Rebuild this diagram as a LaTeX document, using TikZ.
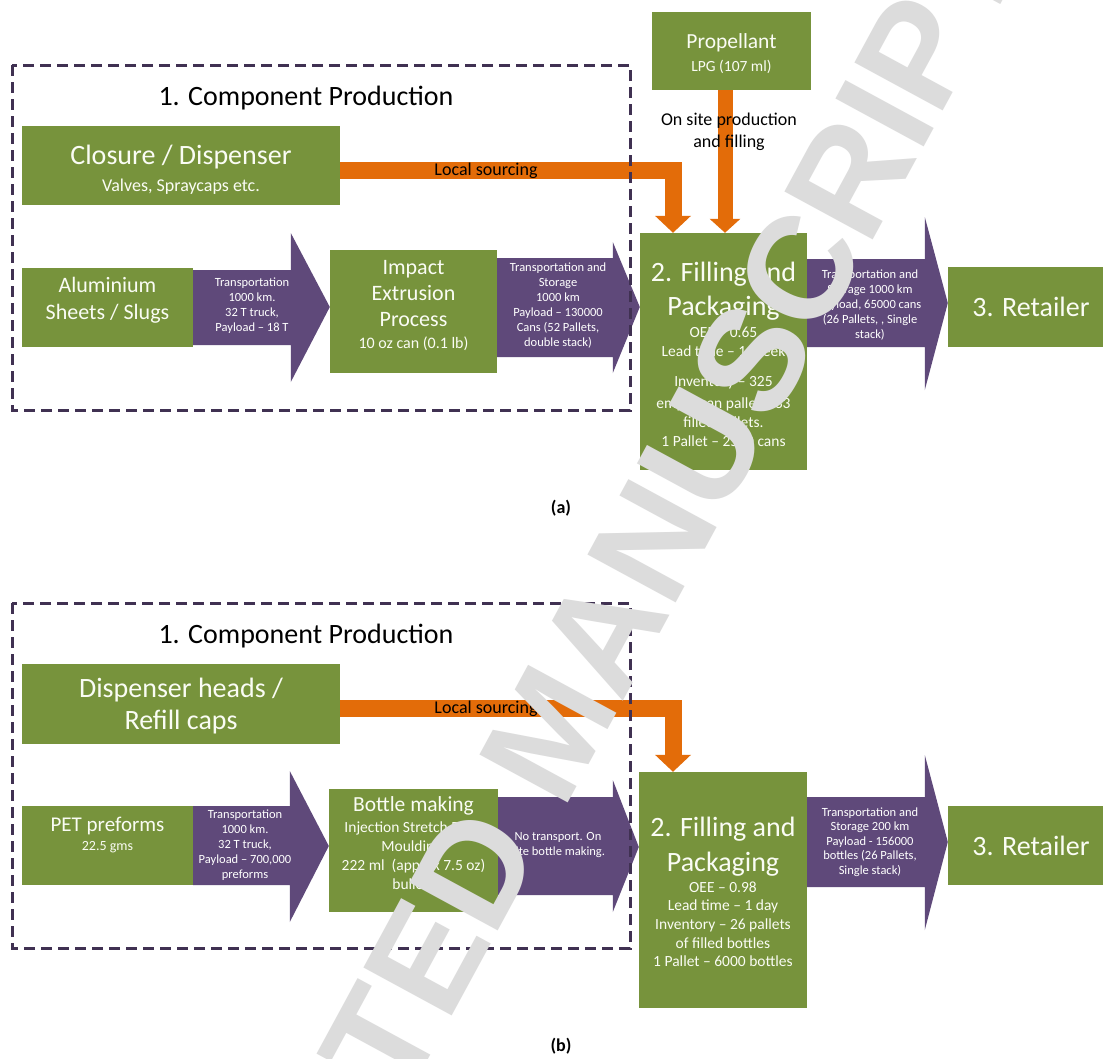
\documentclass[tikz,border=0pt]{standalone}
\usepackage{fontspec}
\setmainfont{Carlito}
\newfontfamily\wmfont{Liberation Sans Bold}
\usetikzlibrary{arrows.meta,calc}
\definecolor{cgreen}{HTML}{77933C}
\definecolor{cpurple}{HTML}{5F497A}
\definecolor{corange}{HTML}{E36C09}
\definecolor{cdash}{HTML}{403152}
\definecolor{cwm}{HTML}{DCDCDC}
\definecolor{cboxtext}{HTML}{FAFCF4}
\newcommand\fs[2]{\fontsize{#1}{#2}\selectfont}
% block arrow: from, to, body top, body bottom, head top, head bottom, tip y, head length
\newcommand\blockarrow[8]{%
  \fill[arr] (#1.east |- 0,#3) -- ($(#2.west |- 0,#3)+(-#8,0)$) -- ($(#2.west |- 0,#5)+(-#8,0)$)
    -- (#2.west |- 0,#7) -- ($(#2.west |- 0,#6)+(-#8,0)$) -- ($(#2.west |- 0,#4)+(-#8,0)$)
    -- (#1.east |- 0,#4) -- cycle;}
\begin{document}
\begin{tikzpicture}[x=1pt,y=-1pt,
  box/.style={fill=cgreen,inner sep=0pt},
  btext/.style={text=cboxtext,align=center,inner sep=0pt},
  arr/.style={fill=cpurple},
  atext/.style={text=white,align=center,inner sep=0pt,font={\fs{12.5}{15}}},
  obar/.style={draw=corange,line width=17pt,line join=miter,-{Triangle[width=35pt,length=17pt]}},
  pbar/.style={draw=corange,line width=15pt,-{Triangle[width=30pt,length=14pt]}},
  lbl/.style={text=black,align=center,inner sep=0pt},
  dbox/.style={draw=cdash,line width=3pt,dash pattern=on 11pt off 6pt},
  wm/.style={text=cwm,inner sep=0pt,font={\wmfont\fontsize{146}{146}\selectfont}}
]
\fill[white] (0,0) rectangle (1103,1058);
\useasboundingbox (0,0) rectangle (1103,1058);

% ---------------- (a) ----------------
\node[lbl,font={\fs{28}{30}}] (titleA) at (306,98) {1. Component Production};
\node[box,minimum width=318pt,minimum height=79pt] (closure) at (181,165.5) {};
\node[btext,font={\fs{28}{30}}] (closureT) at ([yshift=-4pt]closure.center)
  {Closure / Dispenser\\[-3pt]\fs{18}{20}Valves, Spraycaps etc.};
\node[box,minimum width=159pt,minimum height=78pt] (prop) at (731.5,51) {};
\node[btext,font={\fs{21.5}{24}}] (propT) at ([yshift=-3pt]prop.center)
  {Propellant\\[-1pt]\fs{15.5}{18}LPG (107 ml)};
\node[box,minimum width=171pt,minimum height=79pt] (alu) at (107.5,307.5) {};
\node[btext,font={\fs{22}{27}}] (aluT) at ([yshift=7pt]alu.center) {Aluminium\\Sheets / Slugs};
\node[box,minimum width=167pt,minimum height=123pt] (imp) at (413.5,311.5) {};
\node[btext,font={\fs{22}{26}}] (impT) at ([yshift=6pt]imp.center)
  {Impact\\Extrusion\\Process\\[-4pt]\fs{16}{19}10 oz can (0.1 lb)};
\node[box,minimum width=167pt,minimum height=237pt] (fillA) at (723.5,351.5) {};
\node[btext,font={\fs{15.5}{34}}] (fillAT) at ([yshift=-3pt]fillA.center)
  {\fs{28}{34}2. Filling and\\\fs{28}{34}Packaging\\[-12pt]OEE – 0.65\\[-15pt]Lead time – 1 Week\\[-4pt]Inventory – 325\\[-12pt]empty can pallets, 33\\[-15pt]filled pallets.\\[-15pt]1 Pallet – 2500 cans};
\node[box,minimum width=166pt,minimum height=80pt] (retA) at (1031,307) {};
\node[btext,font={\fs{28}{30}}] (retAT) at (retA.center) {3. Retailer};

\blockarrow{alu}{imp}{270}{345}{233}{382}{307}{39}
\blockarrow{imp}{fillA}{258}{357}{242}{373}{307}{27}
\blockarrow{fillA}{retA}{259}{347}{217}{390}{303}{23}
\node[atext] (a1t) at (252,306) {Transportation\\1000 km.\\32 T truck,\\Payload – 18 T};
\node[atext] (a2t) at (558,306) {Transportation and\\Storage\\1000 km\\Payload – 130000\\Cans (52 Pallets,\\double stack)};
\node[atext] (a3t) at (870,305) {Transportation and\\Storage 1000 km\\Payload, 65000 cans\\(26 Pallets, , Single\\stack)};

\draw[obar] (closure.east |- 0,170) -- (673,170) -- (fillA.north -| 673,0);
\draw[pbar] (prop.south -| 725,0) -- (fillA.north -| 725,0);
\node[lbl,font={\fs{18}{20}}] (locA) at (486,171) {Local sourcing};
\node[lbl,font={\fs{18}{22}}] (onsite) at (729,132) {On site production\\and filling};
\draw[dbox] (12,65) rectangle (630,410);
\node[lbl,font={\bfseries\fs{18}{20}}] (capA) at (561,508) {(a)};

% ---------------- (b) ----------------
\node[lbl,font={\fs{28}{30}}] (titleB) at (306,636) {1. Component Production};
\node[box,minimum width=318pt,minimum height=80pt] (disp) at (181,704) {};
\node[btext,font={\fs{28}{32}}] (dispT) at ([yshift=-2pt]disp.center) {Dispenser heads /\\Refill caps};
\node[box,minimum width=171pt,minimum height=79pt] (pet) at (107.5,845.5) {};
\node[btext,font={\fs{21}{20}}] (petT) at ([yshift=10.5pt]pet.center)
  {PET preforms\\[-1pt]\fs{14}{16}22.5 gms};
\node[box,minimum width=169pt,minimum height=123pt] (bot) at (413.5,850.5) {};
\node[btext,font={\fs{15.5}{19}}] (botT) at ([yshift=7pt]bot.center)
  {\fs{21.5}{24}Bottle making\\[2pt]Injection Stretch Blow\\Moulding,\\222 ml~ (approx 7.5 oz)\\bullets};
\node[box,minimum width=168pt,minimum height=236pt] (fillB) at (723,890) {};
\node[btext,font={\fs{15.5}{34}}] (fillBT) at ([yshift=-2pt]fillB.center)
  {\fs{28}{34}2. Filling and\\[1pt]\fs{28}{34}Packaging\\[-13pt]OEE – 0.98\\[-16pt]Lead time – 1 day\\[-15pt]Inventory – 26 pallets\\[-15pt]of filled bottles\\[-16pt]1 Pallet – 6000 bottles};
\node[box,minimum width=166pt,minimum height=79pt] (retB) at (1031,845.5) {};
\node[btext,font={\fs{28}{30}}] (retBT) at (retB.center) {3. Retailer};

\blockarrow{pet}{bot}{806}{885}{771}{922}{846}{39}
\blockarrow{bot}{fillB}{797}{895}{780}{912}{847}{26}
\blockarrow{fillB}{retB}{797}{887}{755}{930}{842}{23}
\node[atext] (b1t) at (245,845.5) {Transportation\\1000 km.\\32 T truck,\\Payload – 700,000\\preforms};
\node[atext] (b2t) at (558,845) {No transport. On\\site bottle making.};
\node[atext,font={\fs{12.5}{14.4}}] (b3t) at (870,842) {Transportation and\\Storage 200 km\\Payload - 156000\\bottles (26 Pallets,\\Single stack)};

\draw[obar] (disp.east |- 0,708.5) -- (673,708.5) -- (fillB.north -| 673,0);
\node[lbl,font={\fs{18}{20}}] (locB) at (486,709) {Local sourcing};
\draw[dbox] (12,603) rectangle (630,948);
\node[lbl,font={\bfseries\fs{18}{20}}] (capB) at (561,1046) {(b)};

% watermark
\node[wm,rotate=61.5] (wmark) at (550,730) {ACCEPTED MANUSCRIPT};
\end{tikzpicture}
\end{document}
